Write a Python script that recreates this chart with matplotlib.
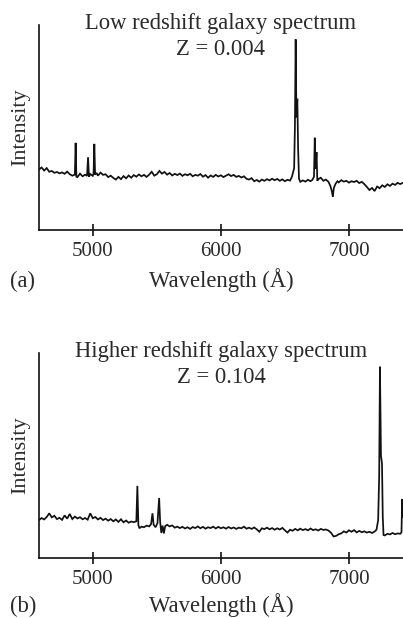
import matplotlib
matplotlib.use("Agg")
import matplotlib.pyplot as plt
import numpy as np

# ---------------- data ----------------
# Panel (a): low redshift galaxy spectrum (Z = 0.004)
wave_a = [4580, 4600, 4620, 4640, 4660, 4680, 4700, 4720, 4740, 4760, 4780, 4800,
          4820, 4840, 4860, 4866, 4872, 4880, 4900, 4920, 4940, 4955, 4963, 4970,
          4980, 5000, 5006, 5012, 5018, 5030, 5040, 5060, 5080, 5100, 5120, 5140,
          5160, 5180, 5200, 5220, 5240, 5260, 5280, 5300, 5320, 5340, 5360, 5380,
          5400, 5420, 5440, 5460, 5480, 5500, 5520, 5540, 5560, 5580, 5600, 5620,
          5640, 5660, 5680, 5700, 5720, 5740, 5760, 5780, 5800, 5820, 5840, 5860,
          5880, 5900, 5920, 5940, 5960, 5980, 6000, 6020, 6040, 6060, 6080, 6100,
          6120, 6140, 6160, 6180, 6200, 6220, 6240, 6260, 6280, 6300, 6320, 6340,
          6360, 6380, 6400, 6420, 6440, 6460, 6480, 6500, 6520, 6540, 6555, 6565,
          6572, 6578, 6584, 6590, 6597, 6603, 6610, 6620, 6640, 6660, 6680, 6700,
          6715, 6727, 6733, 6740, 6747, 6753, 6760, 6780, 6800, 6820, 6840, 6855,
          6866, 6874, 6882, 6895, 6910, 6920, 6940, 6960, 6980, 7000, 7020, 7040,
          7060, 7080, 7100, 7120, 7140, 7160, 7180, 7200, 7220, 7240, 7260, 7280,
          7300, 7320, 7340, 7360, 7380, 7400, 7420]
flux_a = [29.5, 30.5, 29.0, 30.2, 28.4, 28.8, 27.9, 28.3, 27.6, 28.1, 27.4, 28.5,
          27.2, 26.5, 27.0, 42.5, 26.0, 25.8, 27.5, 26.2, 27.0, 26.4, 35.5, 26.0,
          27.3, 26.4, 27.5, 42.0, 27.0, 27.8, 26.5, 28.0, 26.9, 27.2, 25.8, 26.5,
          25.4, 24.6, 25.9, 24.8, 26.3, 25.2, 26.6, 25.5, 26.8, 26.0, 27.1, 26.2,
          26.9, 25.9, 27.0, 28.4, 26.5, 27.2, 28.8, 27.5, 28.3, 27.0, 27.8, 26.6,
          27.4, 26.8, 27.5, 26.4, 27.2, 26.7, 27.4, 26.2, 26.9, 26.5, 27.3, 26.0,
          26.8, 25.5, 26.6, 25.9, 26.9, 26.1, 26.7, 25.8, 26.5, 27.2, 26.3, 26.9,
          25.9, 26.4, 25.6, 26.2, 25.0, 24.6, 25.3, 23.8, 24.4, 23.6, 24.6, 24.0,
          24.8, 24.2, 25.0, 24.3, 24.9, 24.0, 24.7, 23.8, 24.5, 24.1, 26.0, 28.5,
          30.0, 50.0, 93.0, 55.0, 64.0, 40.0, 25.0, 23.5, 24.2, 23.6, 24.5, 23.8,
          24.5, 26.0, 45.0, 30.0, 38.0, 24.0, 24.8, 25.5, 24.0, 24.6, 23.5, 21.5,
          19.0, 16.3, 20.5, 22.5, 23.8, 23.2, 24.3, 23.6, 24.0, 23.1, 23.8, 23.4,
          24.0, 22.9, 23.5, 22.4, 21.0, 19.5, 20.5, 19.0, 21.2, 20.4, 21.8, 21.0,
          22.3, 21.5, 22.6, 22.0, 23.0, 22.4, 23.0]

# Panel (b): higher redshift galaxy spectrum (Z = 0.104)
wave_b = [4580, 4600, 4620, 4640, 4660, 4680, 4700, 4720, 4740, 4760, 4780, 4800,
          4820, 4840, 4860, 4880, 4900, 4920, 4940, 4960, 4980, 5000, 5020, 5040,
          5060, 5080, 5100, 5120, 5140, 5160, 5180, 5200, 5220, 5240, 5260, 5280,
          5300, 5320, 5340, 5348, 5356, 5364, 5380, 5400, 5420, 5440, 5455, 5466,
          5475, 5490, 5505, 5518, 5526, 5535, 5545, 5555, 5565, 5580, 5600, 5620,
          5640, 5660, 5680, 5700, 5720, 5740, 5760, 5780, 5800, 5820, 5840, 5860,
          5880, 5900, 5920, 5940, 5960, 5980, 6000, 6020, 6040, 6060, 6080, 6100,
          6120, 6140, 6160, 6180, 6200, 6220, 6240, 6260, 6280, 6300, 6320, 6340,
          6360, 6380, 6400, 6420, 6440, 6460, 6480, 6500, 6520, 6540, 6560, 6580,
          6600, 6620, 6640, 6660, 6680, 6700, 6720, 6740, 6760, 6780, 6800, 6820,
          6840, 6860, 6880, 6900, 6920, 6940, 6960, 6980, 7000, 7020, 7040, 7060,
          7080, 7100, 7120, 7140, 7160, 7180, 7200, 7215, 7228, 7236, 7242, 7250,
          7258, 7264, 7270, 7280, 7300, 7320, 7340, 7360, 7380, 7400, 7410, 7416,
          7420]
flux_b = [18.5, 19.5, 18.8, 20.0, 21.8, 19.8, 20.6, 19.0, 19.6, 18.6, 20.8, 19.2,
          21.5, 19.0, 20.2, 19.3, 19.9, 18.9, 19.5, 18.7, 21.8, 19.4, 20.0, 18.8,
          19.6, 18.5, 19.2, 18.2, 19.0, 17.9, 18.8, 17.6, 18.9, 17.4, 18.3, 17.2,
          17.8, 17.5, 17.9, 35.2, 16.0, 14.5, 15.3, 15.0, 15.8, 15.4, 16.5, 21.8,
          16.2, 15.0, 17.0, 29.3, 17.5, 12.2, 15.8, 12.0, 15.5, 16.2, 15.4, 15.9,
          14.8, 15.3, 14.6, 15.2, 14.4, 15.0, 14.2, 15.1, 14.6, 15.4, 14.5, 15.2,
          14.3, 15.0, 14.6, 15.3, 14.4, 15.2, 14.5, 15.0, 14.3, 15.1, 14.4, 14.9,
          14.2, 14.8, 14.5, 15.3, 14.3, 14.8, 14.2, 14.9, 14.0, 12.8, 14.5, 14.1,
          14.8, 14.0, 14.6, 13.8, 14.5, 13.9, 14.7, 13.5, 12.4, 13.8, 13.3, 14.2,
          13.5, 14.3, 13.6, 14.1, 13.5, 14.4, 13.6, 14.0, 13.4, 14.2, 13.7, 13.9,
          13.4, 12.3, 10.5, 10.8, 11.6, 12.0, 13.0, 12.4, 13.5, 12.8, 13.6, 12.5,
          13.2, 12.6, 13.0, 12.4, 12.8, 12.2, 12.9, 13.8, 18.5, 40.0, 93.3, 50.0,
          46.0, 20.0, 11.2, 11.0, 11.8, 11.5, 12.2, 11.6, 12.0, 11.8, 12.5, 28.8,
          20.0]

xticks = [5000, 6000, 7000]
xtick_labels = ["5000", "6000", "7000"]
titles = ["Low redshift galaxy spectrum", "Higher redshift galaxy spectrum"]
z_labels = ["Z = 0.004", "Z = 0.104"]
panel_labels = ["(a)", "(b)"]
x_label = "Wavelength (Å)"
y_label = "Intensity"

# ---------------- figure ----------------
plt.rcParams['font.family'] = ['Liberation Serif', 'DejaVu Serif']
W, H = 403, 618
fig = plt.figure(figsize=(W / 100, H / 100), dpi=100)
txt_color = '#2a2a2a'

# axes rectangles in pixels: (left, top, right, bottom)
rects = [(39, 25, 403, 230), (39, 353, 403, 558)]
xlabel_base = [287, 612]
data = [(wave_a, flux_a), (wave_b, flux_b)]

def fy(py):
    return 1 - py / H

for i, (l, t, r, b) in enumerate(rects):
    ax = fig.add_axes([l / W, 1 - b / H, (r - l) / W, (b - t) / H])
    wv, fl = data[i]
    ax.plot(wv, fl, color='#111111', lw=1.25, solid_joinstyle='miter')
    ax.set_xlim(4580, 7422)
    ax.set_ylim(0, 100)
    for s in ['top', 'right']:
        ax.spines[s].set_visible(False)
    for s in ['left', 'bottom']:
        ax.spines[s].set_linewidth(1.2)
        ax.spines[s].set_color('#111111')
    ax.set_yticks([])
    ax.set_xticks(xticks)
    ax.set_xticklabels(xtick_labels)
    ax.tick_params(axis='x', direction='inout', length=9, width=1.2,
                   labelsize=15, pad=4, colors='#111111', labelcolor=txt_color)
    ax.set_ylabel(y_label, fontsize=16, color=txt_color, labelpad=6)
    cx = (l + r) / 2 / W
    fig.text(cx, fy(t + 4), titles[i], ha='center', va='baseline',
             fontsize=16.3, color=txt_color)
    fig.text(cx, fy(t + 30), z_labels[i], ha='center', va='baseline',
             fontsize=16.3, color=txt_color)
    fig.text(cx, fy(xlabel_base[i]), x_label, ha='center', va='baseline',
             fontsize=16.3, color=txt_color)
    fig.text(10 / W, fy(xlabel_base[i]), panel_labels[i], ha='left', va='baseline',
             fontsize=16.3, color=txt_color)

fig.savefig("out.png", dpi=100, facecolor='white')
